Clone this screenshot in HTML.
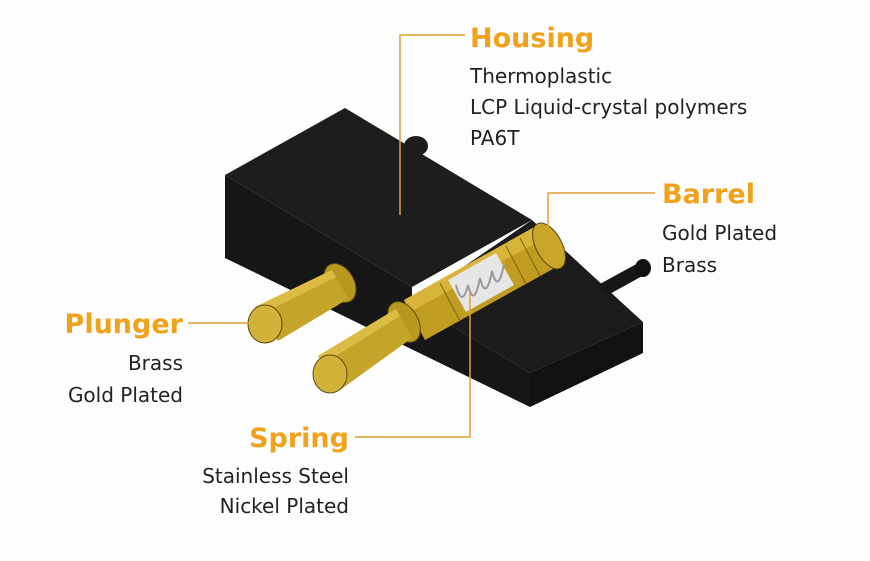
<!DOCTYPE html>
<html><head><meta charset="utf-8"><style>
html,body{margin:0;padding:0;background:#fff;}
svg{display:block}
.h{font-family:"DejaVu Sans","Liberation Sans",sans-serif;font-weight:bold;font-size:27px;fill:#f0a21a}
.t{font-family:"DejaVu Sans","Liberation Sans",sans-serif;font-size:20px;fill:#222}
</style></head><body>
<svg width="870" height="561" viewBox="0 0 870 561" xmlns="http://www.w3.org/2000/svg">
<rect width="870" height="561" fill="#fdfdfd"/>
<!-- back knob -->
<ellipse cx="416" cy="146" rx="12" ry="10" fill="#1c1c1c"/>
<!-- lower slab -->
<polygon points="412,302 532,220 643,322 530,373" fill="#1b1b1b"/>
<polygon points="530,373 643,322 643,353 530,407" fill="#111"/>
<!-- right pin -->
<polygon points="598,285 640,262 646,274 606,296" fill="#161616"/>
<ellipse cx="643" cy="268" rx="8" ry="9" fill="#111"/>
<!-- front face -->
<polygon points="225,175 412,287 412,302 530,373 530,407 225,258" fill="#161616"/>
<!-- top face -->
<polygon points="225,175 345,108 532,220 412,287" fill="#1d1d1d"/>
<!-- barrel -->
<polygon points="404,300 538,225 560,265 425,340" fill="#c09c20"/>
<polygon points="404,300 538,225 545,238 410,312" fill="#d8b53a"/>
<ellipse cx="549" cy="246" rx="13" ry="25" transform="rotate(-28 549 246)" fill="#c9a52a" stroke="#5a4810"/>
<line x1="520" y1="238" x2="540" y2="276" stroke="#7a6515"/>
<line x1="506" y1="246" x2="526" y2="284" stroke="#7a6515"/>
<line x1="440" y1="283" x2="460" y2="321" stroke="#7a6515"/>
<!-- spring window -->
<polygon points="448,280 496,253 514,285 466,312" fill="#e6e6e6"/>
<path d="M456,285 q6,24 12,0 q6,24 12,-7 q6,24 12,-7 q6,24 12,-7" stroke="#999" fill="none" stroke-width="2"/>
<!-- front plunger -->
<ellipse cx="404" cy="322" rx="14" ry="22" transform="rotate(-30 404 322)" fill="#b8981f" stroke="#5a4810"/>
<polygon points="396,309 412,338 340,390 318,356" fill="#c4a52a"/>
<polygon points="396,309 400,316 323,364 318,356" fill="#dcbb45"/>
<ellipse cx="330" cy="374" rx="17" ry="19" fill="#d2b238" stroke="#5a4810"/>
<!-- back plunger -->
<ellipse cx="340" cy="283" rx="14" ry="21" transform="rotate(-30 340 283)" fill="#b8981f" stroke="#5a4810"/>
<polygon points="332,270 348,299 278,341 255,307" fill="#c4a52a"/>
<polygon points="332,270 336,277 259,315 255,307" fill="#dcbb45"/>
<ellipse cx="265" cy="324" rx="17" ry="19" fill="#d2b238" stroke="#5a4810"/>
<!-- leaders -->
<g stroke="#e0a030" stroke-width="1.5" fill="none">
<polyline points="465,35 400,35 400,215"/>
<polyline points="655,193 548,193 548,228"/>
<polyline points="188,323 250,323"/>
<polyline points="355,437 470,437 470,292"/>
</g>
<text class="h" x="470" y="47">Housing</text>
<text class="t" x="470" y="83">Thermoplastic</text>
<text class="t" x="470" y="114">LCP Liquid-crystal polymers</text>
<text class="t" x="470" y="145">PA6T</text>
<text class="h" x="662" y="203">Barrel</text>
<text class="t" x="662" y="240">Gold Plated</text>
<text class="t" x="662" y="272">Brass</text>
<text class="h" x="183" y="333" text-anchor="end">Plunger</text>
<text class="t" x="183" y="370" text-anchor="end">Brass</text>
<text class="t" x="183" y="402" text-anchor="end">Gold Plated</text>
<text class="h" x="349" y="447" text-anchor="end">Spring</text>
<text class="t" x="349" y="483" text-anchor="end">Stainless Steel</text>
<text class="t" x="349" y="513" text-anchor="end">Nickel Plated</text>
</svg>
</body></html>
